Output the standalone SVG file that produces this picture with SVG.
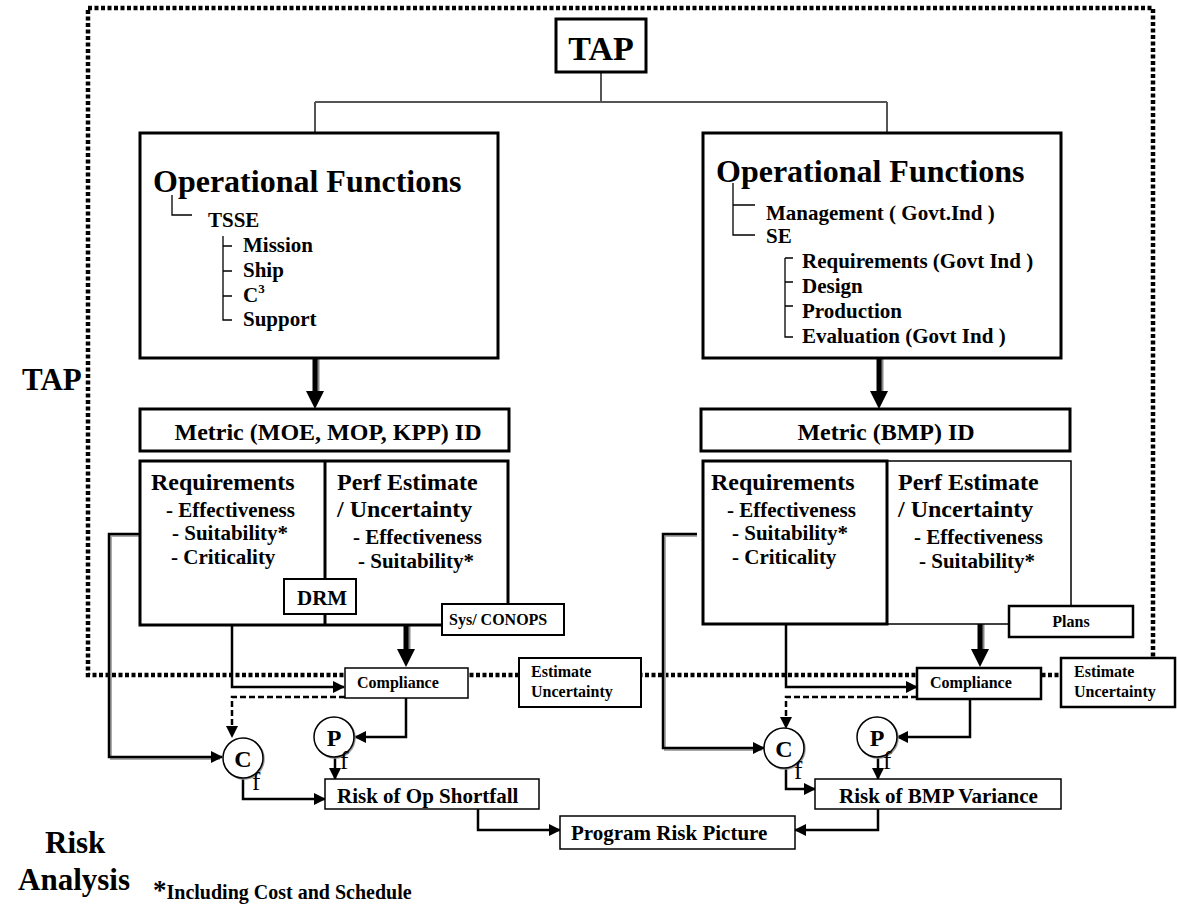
<svg xmlns="http://www.w3.org/2000/svg" width="1177" height="905" viewBox="0 0 1177 905">
<style>
.t{font-family:"Liberation Serif","Times New Roman",serif;font-weight:bold;fill:#000}
.box{fill:#fff;stroke:#000}
.ln{fill:none;stroke:#000;stroke-width:2.5}
.gl{fill:none;stroke:#555;stroke-width:2}
.sh{fill:none;stroke:#aaa;stroke-width:2}
.dash{fill:none;stroke:#000;stroke-width:2.5;stroke-dasharray:6 3}
.dot{fill:none;stroke:#000;stroke-width:4.5;stroke-dasharray:4 2.5}
.tree{fill:none;stroke:#000;stroke-width:1.3}
.circ{fill:#fff;stroke:#000;stroke-width:1.5}
.sub{font-family:"Liberation Serif","Times New Roman",serif;font-size:25px;fill:#000}
</style>
<defs>
<marker id="ah" markerUnits="userSpaceOnUse" markerWidth="12" markerHeight="12" viewBox="0 0 12 12" refX="11" refY="6" orient="auto">
<path d="M0,0 L12,6 L0,12 Z" fill="#000"/>
</marker>
</defs>

<!-- dotted TAP boundary -->
<rect x="88" y="8" width="1065" height="667" class="dot"/>

<g id="connectors">
<path class="gl" d="M601,72 V102 M315,102 H887 M315,102 V133 M887,102 V133"/>
<!-- thick arrows -->
<path d="M317,358 V393" stroke="#888" stroke-width="5"/>
<path d="M315,358 V393" stroke="#000" stroke-width="5"/>
<polygon points="306,391 324,391 315,409" fill="#000"/>
<path d="M881,358 V393" stroke="#888" stroke-width="5"/>
<path d="M879,358 V393" stroke="#000" stroke-width="5"/>
<polygon points="870,391 888,391 879,409" fill="#000"/>
<path d="M408,625 V651" stroke="#888" stroke-width="5"/>
<path d="M406,625 V651" stroke="#000" stroke-width="5"/>
<polygon points="397,649 415,649 406,667" fill="#000"/>
<path d="M982,624 V651" stroke="#888" stroke-width="5"/>
<path d="M980,624 V651" stroke="#000" stroke-width="5"/>
<polygon points="971,649 989,649 980,667" fill="#000"/>
<!-- left side -->
<path class="sh" d="M140,536 H111 V759 H220"/>
<path class="ln" stroke="#333" d="M140,534 H109 V757 H222" marker-end="url(#ah)"/>
<path class="ln" d="M232,625 V687 H344" marker-end="url(#ah)"/>
<path class="dash" d="M345,697 H232 V737" marker-end="url(#ah)"/>
<path class="ln" d="M406,698 V737 H355" marker-end="url(#ah)"/>
<path class="ln" d="M335,757 V779" marker-end="url(#ah)"/>
<path class="ln" d="M243,779 V799 H325" marker-end="url(#ah)"/>
<path class="ln" d="M478,809 V830 H560" marker-end="url(#ah)"/>
<!-- right side -->
<path class="sh" d="M697,536 H665 V750 H762"/>
<path class="ln" stroke="#333" d="M697,534 H663 V748 H764" marker-end="url(#ah)"/>
<path class="ln" d="M786,624 V687 H917" marker-end="url(#ah)"/>
<path class="dash" d="M917,697 H786 V728" marker-end="url(#ah)"/>
<path class="ln" d="M970,699 V737 H897" marker-end="url(#ah)"/>
<path class="ln" d="M878,757 V779" marker-end="url(#ah)"/>
<path class="ln" d="M786,768 V789 H815" marker-end="url(#ah)"/>
<path class="ln" d="M878,809 V830 H795" marker-end="url(#ah)"/>
</g>

<text class="t" x="22" y="390" font-size="31">TAP</text>

<g id="tap">
<rect class="box" x="556" y="19" width="90" height="53" stroke-width="3"/>
<text class="t" x="601" y="60" font-size="34" text-anchor="middle">TAP</text>
</g>

<g id="opfunc-left">
<rect class="box" x="140" y="133" width="358" height="225" stroke-width="3"/>
<text class="t" x="153" y="192" font-size="32">Operational Functions</text>
<path class="tree" d="M172,195 V215 H192 M223,236 V320 H232 M223,246 H232 M223,271 H232 M223,296 H232"/>
<text class="t" x="208" y="227" font-size="21">TSSE</text>
<text class="t" x="243" y="252" font-size="21">Mission</text>
<text class="t" x="243" y="277" font-size="21">Ship</text>
<text class="t" x="243" y="302" font-size="21">C<tspan font-size="13" dy="-9">3</tspan></text>
<text class="t" x="243" y="326" font-size="21">Support</text>
</g>

<g id="opfunc-right">
<rect class="box" x="703" y="133" width="358" height="225" stroke-width="3"/>
<text class="t" x="716" y="182" font-size="32">Operational Functions</text>
<path class="tree" d="M733,183 V235 H755 M733,205 H755 M785,258 V337 H793 M785,258 H793 M785,282 H793 M785,306 H793"/>
<text class="t" x="766" y="220" font-size="21">Management ( Govt.Ind )</text>
<text class="t" x="766" y="243" font-size="21">SE</text>
<text class="t" x="802" y="268" font-size="21">Requirements (Govt Ind )</text>
<text class="t" x="802" y="293" font-size="21">Design</text>
<text class="t" x="802" y="318" font-size="21">Production</text>
<text class="t" x="802" y="343" font-size="21">Evaluation (Govt Ind )</text>
</g>

<g id="metric-left">
<rect class="box" x="140" y="409" width="369" height="42" stroke-width="3"/>
<text class="t" x="328" y="440" font-size="24" text-anchor="middle">Metric (MOE, MOP, KPP) ID</text>
</g>
<g id="metric-right">
<rect class="box" x="701" y="409" width="369" height="42" stroke-width="3"/>
<text class="t" x="886" y="440" font-size="24" text-anchor="middle">Metric (BMP) ID</text>
</g>

<g id="req-left">
<rect class="box" x="140" y="461" width="368" height="164" stroke-width="3"/>
<path d="M325,461 V625" stroke="#000" stroke-width="3"/>
<text class="t" x="151" y="490" font-size="24">Requirements</text>
<text class="t" x="166" y="517" font-size="21">- Effectiveness</text>
<text class="t" x="172" y="540" font-size="21">- Suitability*</text>
<text class="t" x="171" y="564" font-size="21">- Criticality</text>
<text class="t" x="337" y="490" font-size="24">Perf Estimate</text>
<text class="t" x="337" y="517" font-size="24">/ Uncertainty</text>
<text class="t" x="353" y="544" font-size="21">- Effectiveness</text>
<text class="t" x="358" y="568" font-size="21">- Suitability*</text>
</g>
<g id="drm">
<rect class="box" x="284" y="579" width="72" height="35" stroke-width="2"/>
<text class="t" x="297" y="605" font-size="21">DRM</text>
</g>
<g id="sys-conops">
<rect class="box" x="442" y="604" width="122" height="31" stroke-width="2"/>
<text class="t" x="449" y="625" font-size="16">Sys/ CONOPS</text>
</g>

<g id="req-right">
<rect class="box" x="887" y="461" width="184" height="163" stroke-width="1.5"/>
<rect class="box" x="703" y="461" width="184" height="163" stroke-width="3"/>
<text class="t" x="711" y="490" font-size="24">Requirements</text>
<text class="t" x="727" y="517" font-size="21">- Effectiveness</text>
<text class="t" x="732" y="540" font-size="21">- Suitability*</text>
<text class="t" x="732" y="564" font-size="21">- Criticality</text>
<text class="t" x="898" y="490" font-size="24">Perf Estimate</text>
<text class="t" x="898" y="517" font-size="24">/ Uncertainty</text>
<text class="t" x="914" y="544" font-size="21">- Effectiveness</text>
<text class="t" x="919" y="568" font-size="21">- Suitability*</text>
</g>
<g id="plans">
<rect class="box" x="1009" y="606" width="124" height="31" stroke-width="2.5"/>
<text class="t" x="1071" y="627" font-size="16" text-anchor="middle">Plans</text>
</g>

<g id="compliance-left">
<rect class="box" x="345" y="668" width="123" height="30" stroke-width="1.5"/>
<text class="t" x="357" y="688" font-size="16">Compliance</text>
</g>
<g id="estimate-left">
<rect class="box" x="519" y="658" width="122" height="49" stroke-width="2"/>
<text class="t" x="531" y="677" font-size="16">Estimate</text>
<text class="t" x="531" y="697" font-size="16">Uncertainty</text>
</g>
<g id="compliance-right">
<rect class="box" x="917" y="668" width="124" height="31" stroke-width="2.5"/>
<text class="t" x="930" y="688" font-size="16">Compliance</text>
</g>
<g id="estimate-right">
<rect class="box" x="1061" y="658" width="114" height="49" stroke-width="2.5"/>
<text class="t" x="1074" y="677" font-size="16">Estimate</text>
<text class="t" x="1074" y="697" font-size="16">Uncertainty</text>
</g>

<g id="cf-left">
<circle cx="244" cy="759" r="20" fill="none" stroke="#999" stroke-width="1.5"/>
<circle class="circ" cx="243" cy="758" r="20"/>
<text class="t" x="243" y="767" font-size="24" text-anchor="middle">C</text>
<text class="sub" x="252" y="790">f</text>
</g>
<g id="pf-left">
<circle cx="335" cy="738" r="20" fill="none" stroke="#999" stroke-width="1.5"/>
<circle class="circ" cx="334" cy="737" r="20"/>
<text class="t" x="334" y="746" font-size="24" text-anchor="middle">P</text>
<text class="sub" x="340" y="769">f</text>
</g>
<g id="cf-right">
<circle cx="785" cy="749" r="20" fill="none" stroke="#999" stroke-width="1.5"/>
<circle class="circ" cx="784" cy="748" r="20"/>
<text class="t" x="784" y="757" font-size="24" text-anchor="middle">C</text>
<text class="sub" x="794" y="779">f</text>
</g>
<g id="pf-right">
<circle cx="878" cy="738" r="20" fill="none" stroke="#999" stroke-width="1.5"/>
<circle class="circ" cx="877" cy="737" r="20"/>
<text class="t" x="877" y="746" font-size="24" text-anchor="middle">P</text>
<text class="sub" x="883" y="769">f</text>
</g>

<g id="risk-op">
<rect class="box" x="325" y="779" width="214" height="30" stroke-width="1.5"/>
<text class="t" x="337" y="803" font-size="21">Risk of Op Shortfall</text>
</g>
<g id="risk-bmp">
<rect class="box" x="815" y="779" width="246" height="30" stroke-width="1.5"/>
<text class="t" x="839" y="803" font-size="21">Risk of BMP Variance</text>
</g>
<g id="program-risk">
<rect class="box" x="560" y="816" width="235" height="33" stroke-width="1.5"/>
<text class="t" x="571" y="840" font-size="21">Program Risk Picture</text>
</g>

<text class="t" x="45" y="853" font-size="31">Risk</text>
<text class="t" x="18" y="890" font-size="31">Analysis</text>
<text class="t" x="153" y="899" font-size="20"><tspan font-size="27">*</tspan>Including Cost and Schedule</text>
</svg>
